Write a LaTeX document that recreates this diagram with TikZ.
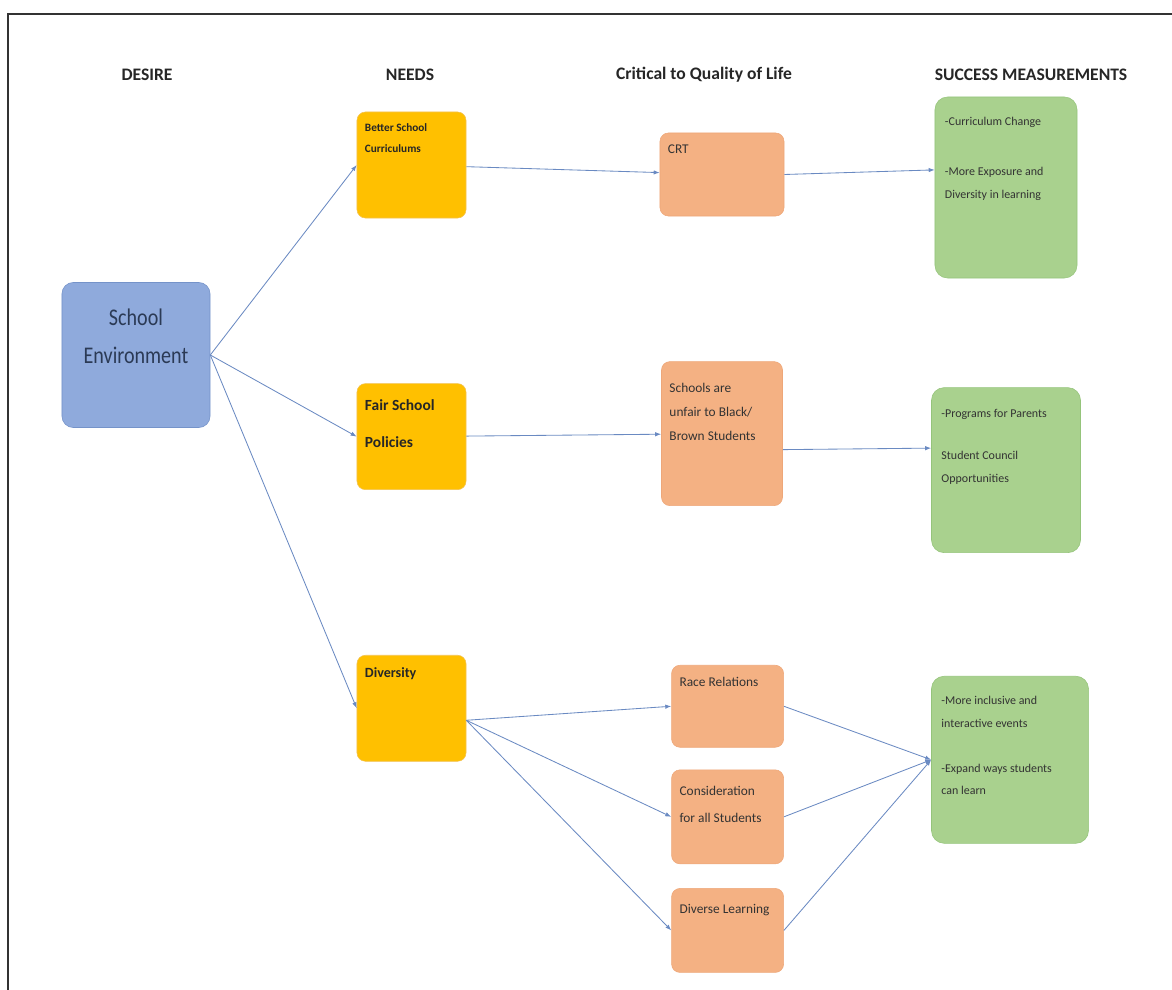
\documentclass[tikz,border=0pt]{standalone}
\usepackage{fontspec}
\setmainfont{Carlito}
\newfontfamily\narrowfont[FakeStretch=0.84]{Carlito}
\usepackage{xcolor}
\usetikzlibrary{positioning,arrows.meta}

\definecolor{envblue}{HTML}{8FAADC}
\definecolor{envline}{HTML}{7593C9}
\definecolor{envtext}{HTML}{2B3A55}
\definecolor{needgold}{HTML}{FFC000}
\definecolor{needline}{HTML}{F3C24F}
\definecolor{ctqsalmon}{HTML}{F4B183}
\definecolor{ctqline}{HTML}{EEA779}
\definecolor{smgreen}{HTML}{A9D18E}
\definecolor{smline}{HTML}{95C47B}
\definecolor{linkblue}{HTML}{6A8AC2}

% box text, top left, fixed size
\newcommand{\cellbox}[3]{\begin{minipage}[t][#2][t]{#1}\raggedright #3\end{minipage}}

\begin{document}
\begin{tikzpicture}[
x=0.025cm,
y=-0.025cm,
>=Latex,
head/.style={
font=\bfseries\fontsize{12.5}{14}\selectfont,
text=black!85
},
desirebox/.style={
draw=envline,
fill=envblue,
rounded corners=8pt,
minimum width=3.7cm,
minimum height=3.625cm,
align=center,
text=envtext,
font=\narrowfont\fontsize{17}{27}\selectfont
},
needbox/.style={
draw=needline,
fill=needgold,
rounded corners=6pt,
inner xsep=0.2cm,
inner ysep=0.3cm,
text=black!85
},
ctqbox/.style={
draw=ctqline,
fill=ctqsalmon,
rounded corners=6pt,
inner xsep=0.2cm,
inner ysep=0.3cm,
font=\fontsize{9.5}{17}\selectfont,
text=black!80
},
smbox/.style={
draw=smline,
fill=smgreen,
rounded corners=9pt,
inner xsep=0.25cm,
inner ysep=0.5cm,
font=\fontsize{8.5}{16}\selectfont,
text=black!80
},
link/.style={
draw=linkblue,
line width=0.6pt,
-{Latex[length=1.5mm,width=1.1mm]}
}
]

\useasboundingbox (0,0) rectangle (1172,990);

% frame
\draw[line width=2pt, black!80] (8,990) -- (8,14) -- (1172,14);

%%%%%%%%%%%%%%%%%%%%%%%%%%%%%%%%%%%%%%%%%%%%%
% Column heads
%%%%%%%%%%%%%%%%%%%%%%%%%%%%%%%%%%%%%%%%%%%%%

\node[head] (hdesire) at (147,75) {DESIRE};
\node[head] (hneeds) at (410,75) {NEEDS};
\node[head] (hctq) at (704,75) {Critical to Quality of Life};
\node[head] (hsuccess) at (1031,75) {SUCCESS MEASUREMENTS};

%%%%%%%%%%%%%%%%%%%%%%%%%%%%%%%%%%%%%%%%%%%%%
% Desire
%%%%%%%%%%%%%%%%%%%%%%%%%%%%%%%%%%%%%%%%%%%%%

\node[desirebox] (env) at (136,355)
{School\\
Environment\\
\mbox{}};

%%%%%%%%%%%%%%%%%%%%%%%%%%%%%%%%%%%%%%%%%%%%%
% Needs
%%%%%%%%%%%%%%%%%%%%%%%%%%%%%%%%%%%%%%%%%%%%%

\node[needbox, font=\bfseries\fontsize{8}{15}\selectfont] (need1) at (411.5,165)
{\cellbox{2.325cm}{2.05cm}{Better School\\ Curriculums}};

\node[needbox, inner ysep=0.4cm, font=\bfseries\fontsize{11}{26}\selectfont, below=4.125cm of need1] (need2)
{\cellbox{2.325cm}{1.85cm}{Fair School\\ Policies}};

\node[needbox, font=\bfseries\fontsize{10}{16}\selectfont, below=4.125cm of need2] (need3)
{\cellbox{2.325cm}{2.05cm}{Diversity}};

%%%%%%%%%%%%%%%%%%%%%%%%%%%%%%%%%%%%%%%%%%%%%
% Critical to quality of life
%%%%%%%%%%%%%%%%%%%%%%%%%%%%%%%%%%%%%%%%%%%%%

\node[ctqbox] (ctq1) at (722,174.5)
{\cellbox{2.7cm}{1.475cm}{CRT}};

\node[ctqbox, inner ysep=0.55cm, below=3.625cm of ctq1] (ctq2)
{\cellbox{2.625cm}{2.5cm}{Schools are\\ unfair to Black/\\ Brown Students}};

\node[ctqbox, below=3.975cm of ctq2, xshift=0.14cm] (ctq3)
{\cellbox{2.4cm}{1.45cm}{Race Relations}};

\node[ctqbox, inner ysep=0.4cm, font=\fontsize{9.5}{19.5}\selectfont, below=0.55cm of ctq3] (ctq4)
{\cellbox{2.4cm}{1.55cm}{Consideration\\ for all Students}};

\node[ctqbox, inner ysep=0.4cm, below=0.6cm of ctq4] (ctq5)
{\cellbox{2.4cm}{1.3cm}{Diverse Learning}};

%%%%%%%%%%%%%%%%%%%%%%%%%%%%%%%%%%%%%%%%%%%%%
% Success measurements
%%%%%%%%%%%%%%%%%%%%%%%%%%%%%%%%%%%%%%%%%%%%%

\node[smbox] (sm1) at (1006,187.5)
{\cellbox{3.05cm}{3.525cm}{-Curriculum Change\\[20pt]
-More Exposure and\\ Diversity in learning}};

\node[smbox, inner ysep=0.55cm, below=2.725cm of sm1] (sm2)
{\cellbox{3.225cm}{3.025cm}{-Programs for Parents\\[14pt]
Student Council\\ Opportunities}};

\node[smbox, below=3.075cm of sm2, xshift=0.1cm] (sm3)
{\cellbox{3.425cm}{3.175cm}{-More inclusive and\\ interactive events\\[16pt]
-Expand ways students\\ can learn}};

%%%%%%%%%%%%%%%%%%%%%%%%%%%%%%%%%%%%%%%%%%%%%
% Connections
%%%%%%%%%%%%%%%%%%%%%%%%%%%%%%%%%%%%%%%%%%%%%

\draw[link] (env.east)--(need1.west);

\draw[link] (env.east)--(need2.west);

\draw[link] (env.east)--(need3.west);

\draw[link] (need1)--(ctq1);

\draw[link] (ctq1.east)--([yshift=0.44cm]sm1.west);

\draw[link] (need2)--(ctq2);

\draw[link] ([yshift=-0.4cm]ctq2.east)--([yshift=0.55cm]sm2.west);

\draw[link] ([yshift=-0.3cm]need3.east)--(ctq3.west);

\draw[link] ([yshift=-0.3cm]need3.east)--(ctq4.west);

\draw[link] ([yshift=-0.3cm]need3.east)--(ctq5.west);

\draw[link] (ctq3.east)--(sm3.west);

\draw[link] (ctq4.east)--(sm3.west);

\draw[link] (ctq5.east)--(sm3.west);

\end{tikzpicture}
\end{document}
